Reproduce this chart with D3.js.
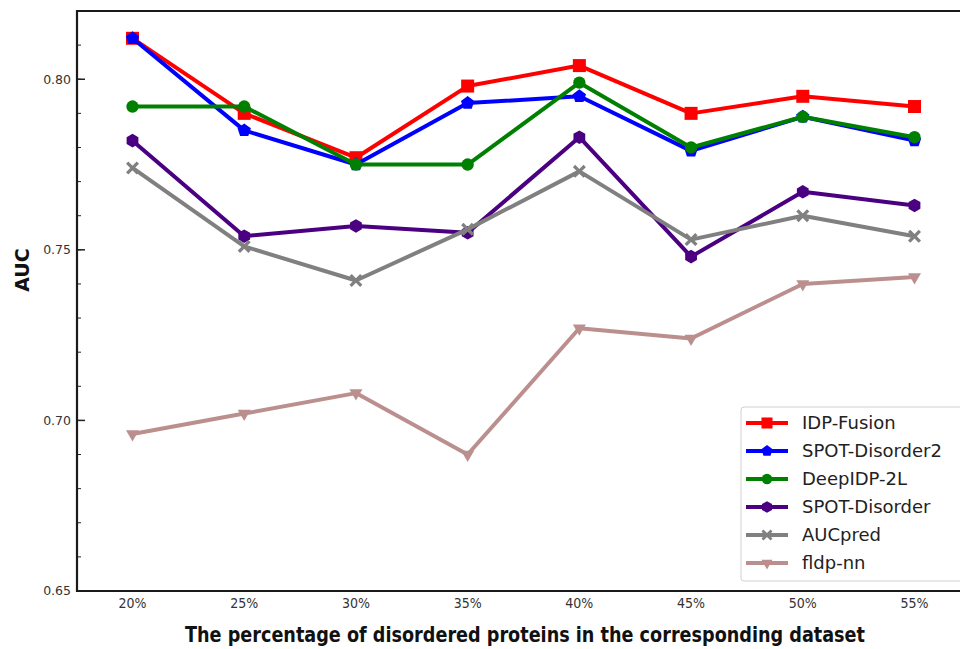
<!DOCTYPE html>
<html>
<head>
<meta charset="utf-8">
<script src="https://cdn.jsdelivr.net/npm/d3@7"></script>
<style>
    body { margin: 0; background: #fff; }
    svg { display: block; }
</style>
</head>
<body>
<svg id="chart"></svg>
<script>
const width = 960
const height = 649

const categories = ["20%", "25%", "30%", "35%", "40%", "45%", "50%", "55%"]
const yTicks = [0.65, 0.70, 0.75, 0.80]

const seriesNames = ["IDP-Fusion", "SPOT-Disorder2", "DeepIDP-2L", "SPOT-Disorder", "AUCpred", "fldp-nn"]
const idpFusion = [0.812, 0.790, 0.777, 0.798, 0.804, 0.790, 0.795, 0.792]
const spotDisorder2 = [0.812, 0.785, 0.775, 0.793, 0.795, 0.779, 0.789, 0.782]
const deepIdp2L = [0.792, 0.792, 0.775, 0.775, 0.799, 0.780, 0.789, 0.783]
const spotDisorder = [0.782, 0.754, 0.757, 0.755, 0.783, 0.748, 0.767, 0.763]
const aucPred = [0.774, 0.751, 0.741, 0.756, 0.773, 0.753, 0.760, 0.754]
const fldpNn = [0.696, 0.702, 0.708, 0.690, 0.727, 0.724, 0.740, 0.742]

const seriesValues = [idpFusion, spotDisorder2, deepIdp2L, spotDisorder, aucPred, fldpNn]
const seriesColors = ["#ff0000", "#0000ff", "#008000", "#4b0082", "#808080", "#bc8f8f"]
const seriesMarkers = ["square", "pentagon", "circle", "hexagon", "x", "triangleDown"]

const frame = { left: 77, right: 960, top: 11, bottom: 591 }

const svg = d3.select("#chart")
    .attr("width", width)
    .attr("height", height)
    .attr("viewBox", [0, 0, width, height])

const x = d3.scalePoint()
    .domain(categories)
    .range([132.5, 914.5])

const y = d3.scaleLinear()
    .domain([0.65, 0.82])
    .range([frame.bottom, frame.top])

// marker shapes, r is roughly the outer radius in px
const polygon = (n, r, rot) => {
    const pts = d3.range(n).map((i) => {
        const a = rot + (i * 2 * Math.PI) / n
        return [r * Math.cos(a), r * Math.sin(a)]
    })
    return "M" + pts.map((p) => p.join(",")).join("L") + "Z"
}

const markerPath = (kind) => {
    switch (kind) {
        case "square":
            return "M-6.5,-6.5H6.5V6.5H-6.5Z"
        case "pentagon":
            return polygon(5, 7, -Math.PI / 2)
        case "circle":
            return d3.symbol(d3.symbolCircle, 120)()
        case "hexagon":
            return polygon(6, 6.8, -Math.PI / 2)
        case "x": {
            const a = 6.5
            const w = 2.3
            return `M${-a + w},${-a}L0,${-w}L${a - w},${-a}L${a},${-a + w}L${w},0L${a},${a - w}L${a - w},${a}L0,${w}L${-a + w},${a}L${-a},${a - w}L${-w},0L${-a},${-a + w}Z`
        }
        case "triangleDown":
            return polygon(3, 7.5, Math.PI / 2)
    }
}

// y axis ticks (inward) and labels
const axisG = svg.append("g")

const minorTicks = d3.range(0.65, 0.8201, 0.01).map((v) => +v.toFixed(2))
axisG.selectAll("line.minor")
    .data(minorTicks)
    .enter()
    .append("line")
    .attr("x1", frame.left)
    .attr("x2", frame.left + 4)
    .attr("y1", (d) => y(d))
    .attr("y2", (d) => y(d))
    .attr("stroke", "#222")
    .attr("stroke-width", 1)

axisG.selectAll("line.major")
    .data(yTicks)
    .enter()
    .append("line")
    .attr("x1", frame.left)
    .attr("x2", frame.left + 8)
    .attr("y1", (d) => y(d))
    .attr("y2", (d) => y(d))
    .attr("stroke", "#222")
    .attr("stroke-width", 1.5)

axisG.selectAll("text.ytick")
    .data(yTicks)
    .enter()
    .append("text")
    .attr("x", frame.left - 6)
    .attr("y", (d) => y(d))
    .attr("dy", "0.35em")
    .attr("text-anchor", "end")
    .attr("font-family", "DejaVu Sans")
    .attr("font-size", 12.5)
    .attr("fill", "#333")
    .text((d) => d.toFixed(2))

axisG.selectAll("text.xtick")
    .data(categories)
    .enter()
    .append("text")
    .attr("x", (d) => x(d))
    .attr("y", frame.bottom + 17)
    .attr("text-anchor", "middle")
    .attr("font-family", "DejaVu Sans Condensed")
    .attr("font-stretch", "condensed")
    .attr("font-size", 14.5)
    .attr("fill", "#333")
    .attr("textLength", 28)
    .attr("lengthAdjust", "spacingAndGlyphs")
    .text((d) => d)

// axis titles
svg.append("text")
    .attr("transform", "translate(29,270) rotate(-90)")
    .attr("text-anchor", "middle")
    .attr("font-family", "DejaVu Sans")
    .attr("font-weight", "bold")
    .attr("font-size", 19)
    .attr("fill", "#111")
    .text("AUC")

svg.append("text")
    .attr("x", 525)
    .attr("y", 642)
    .attr("text-anchor", "middle")
    .attr("font-family", "DejaVu Sans Condensed")
    .attr("font-stretch", "condensed")
    .attr("font-weight", "bold")
    .attr("font-size", 22)
    .attr("textLength", 680)
    .attr("lengthAdjust", "spacingAndGlyphs")
    .attr("fill", "#111")
    .text("The percentage of disordered proteins in the corresponding dataset")

// series
const line = d3.line()
    .x((d, i) => x(categories[i]))
    .y((d) => y(d))

const seriesG = svg.append("g")
seriesValues.forEach((values, s) => {
    const g = seriesG.append("g")
    g.append("path")
        .datum(values)
        .attr("d", line)
        .attr("fill", "none")
        .attr("stroke", seriesColors[s])
        .attr("stroke-width", 4)
        .attr("stroke-linejoin", "round")

    g.selectAll("path.marker")
        .data(values)
        .enter()
        .append("path")
        .attr("class", "marker")
        .attr("d", markerPath(seriesMarkers[s]))
        .attr("transform", (d, i) => `translate(${x(categories[i])},${y(d)})`)
        .attr("fill", seriesColors[s])
})

// frame (left, bottom, top; right side is cut off)
svg.append("path")
    .attr("d", `M${frame.right},${frame.top}H${frame.left}V${frame.bottom}H${frame.right}`)
    .attr("fill", "none")
    .attr("stroke", "#1a1a1a")
    .attr("stroke-width", 2.2)

// legend
const legend = svg.append("g")
legend.append("rect")
    .attr("x", 741)
    .attr("y", 407)
    .attr("width", 230)
    .attr("height", 174)
    .attr("rx", 3)
    .attr("fill", "#fff")
    .attr("fill-opacity", 0.85)
    .attr("stroke", "#d0d0d0")
    .attr("stroke-width", 1)

const legendRows = legend.selectAll("g.row")
    .data(seriesNames)
    .enter()
    .append("g")
    .attr("transform", (d, i) => `translate(0,${423 + i * 28})`)

legendRows.append("line")
    .attr("x1", 746)
    .attr("x2", 788)
    .attr("stroke", (d, i) => seriesColors[i])
    .attr("stroke-width", 4)

legendRows.append("path")
    .attr("d", (d, i) => markerPath(seriesMarkers[i]))
    .attr("transform", "translate(767,0) scale(0.85)")
    .attr("fill", (d, i) => seriesColors[i])

legendRows.append("text")
    .attr("x", 802)
    .attr("dy", "0.35em")
    .attr("font-family", "DejaVu Sans")
    .attr("font-size", 18)
    .attr("fill", "#222")
    .text((d) => d)
</script>
</body>
</html>
